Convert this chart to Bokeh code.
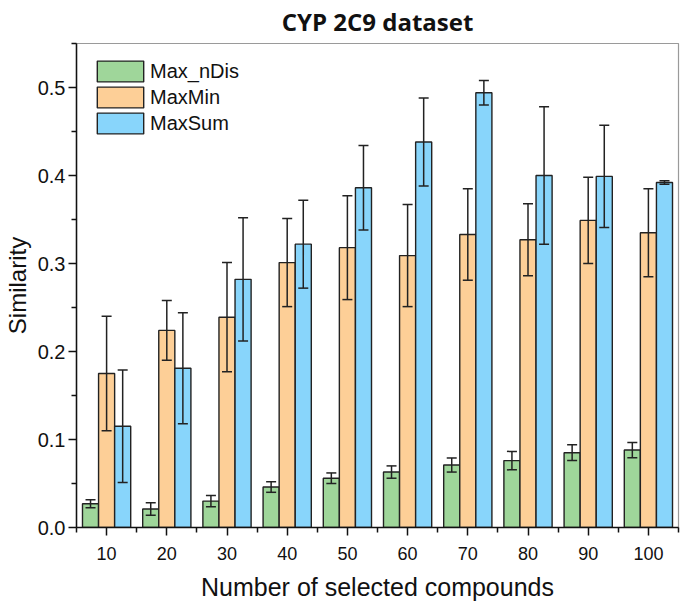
from bokeh.plotting import figure
from bokeh.models import (Range1d, FixedTicker, PrintfTickFormatter, Whisker,
                          ColumnDataSource, TeeHead)
from bokeh.embed import file_html
from bokeh.resources import INLINE

# ---- data ----
n_compounds = [10, 20, 30, 40, 50, 60, 70, 80, 90, 100]
max_ndis = [0.027, 0.021, 0.030, 0.046, 0.056, 0.063, 0.071, 0.076, 0.085, 0.088]
max_ndis_err = [0.0045, 0.007, 0.0065, 0.006, 0.006, 0.007, 0.008, 0.0105, 0.009, 0.0087]
maxmin = [0.175, 0.224, 0.239, 0.301, 0.318, 0.309, 0.333, 0.327, 0.349, 0.335]
maxmin_err = [0.065, 0.034, 0.062, 0.050, 0.059, 0.058, 0.052, 0.041, 0.049, 0.050]
maxsum = [0.115, 0.181, 0.282, 0.322, 0.386, 0.438, 0.494, 0.400, 0.399, 0.392]
maxsum_err = [0.064, 0.063, 0.070, 0.050, 0.048, 0.050, 0.014, 0.078, 0.058, 0.002]
series_names = ["Max_nDis", "MaxMin", "MaxSum"]
y_ticks = [0.0, 0.1, 0.2, 0.3, 0.4, 0.5]

colors = ["#9fd69a", "#fdcf97", "#88d5fb"]
bar_w = 2.67
offsets = [-bar_w, 0.0, bar_w]

p = figure(frame_width=602, frame_height=484, output_backend="svg",
           toolbar_location=None,
           x_range=Range1d(5, 105), y_range=Range1d(0, 0.55),
           min_border_left=71, min_border_right=5, min_border_top=36,
           min_border_bottom=70)

p.title.text = "CYP 2C9 dataset"
p.title.align = "center"
p.title.vertical_align = "top"
p.title.text_font = "Open Sans"
p.title.text_font_style = "bold"
p.title.text_font_size = "24px"
p.title.text_color = "#111111"
p.title.standoff = 8

all_vals = [max_ndis, maxmin, maxsum]
all_errs = [max_ndis_err, maxmin_err, maxsum_err]
for name, vals, errs, col, off in zip(series_names, all_vals, all_errs, colors, offsets):
    xs = [v + off for v in n_compounds]
    src = ColumnDataSource(dict(x=xs, top=vals,
                                upper=[v + e for v, e in zip(vals, errs)],
                                lower=[v - e for v, e in zip(vals, errs)]))
    p.vbar(x="x", top="top", width=bar_w, bottom=0, source=src,
           fill_color=col, line_color="#222222", line_width=1.4,
           legend_label=name)
    w = Whisker(base="x", upper="upper", lower="lower", source=src,
                line_color="#222222", line_width=1.5, level="overlay",
                upper_head=TeeHead(size=10, line_color="#222222", line_width=1.5),
                lower_head=TeeHead(size=10, line_color="#222222", line_width=1.5))
    p.add_layout(w)

p.xgrid.visible = False
p.ygrid.visible = False
p.outline_line_color = "#9a9a9a"
p.outline_line_width = 1.2

p.xaxis.ticker = FixedTicker(ticks=n_compounds,
                             minor_ticks=[5, 15, 25, 35, 45, 55, 65, 75, 85, 95, 105])
p.yaxis.ticker = FixedTicker(ticks=y_ticks,
                             minor_ticks=[0.05, 0.15, 0.25, 0.35, 0.45, 0.55])
p.yaxis.formatter = PrintfTickFormatter(format="%.1f")

for ax in (p.xaxis, p.yaxis):
    ax.axis_line_color = "#111111"
    ax.axis_line_width = 1.5
    ax.major_tick_line_color = "#111111"
    ax.major_tick_line_width = 1.5
    ax.minor_tick_line_color = "#111111"
    ax.minor_tick_line_width = 1.5
    ax.major_tick_in = 0
    ax.major_tick_out = 8
    ax.minor_tick_in = 0
    ax.minor_tick_out = 5
    ax.major_label_text_font = "Liberation Sans"
    ax.major_label_text_color = "#111111"
    ax.axis_label_text_font = "Liberation Sans"
    ax.axis_label_text_font_style = "normal"
    ax.axis_label_text_color = "#111111"

p.xaxis.axis_label_text_font_size = "25px"
p.yaxis.axis_label_text_font_size = "24px"
p.xaxis.major_label_text_font_size = "18px"
p.yaxis.major_label_text_font_size = "20px"
p.xaxis.axis_label = "Number of selected compounds"
p.yaxis.axis_label = "Similarity"
p.xaxis.major_label_standoff = 11
p.xaxis.axis_label_standoff = 10
p.yaxis.major_label_standoff = 3
p.yaxis.axis_label_standoff = 4

leg = p.legend[0]
leg.location = "top_left"
leg.margin = 15
leg.padding = 1
leg.border_line_color = None
leg.background_fill_alpha = 0
leg.glyph_width = 58
leg.glyph_height = 26
leg.label_height = 26
leg.spacing = 0
leg.label_standoff = 1
leg.label_text_font = "Liberation Sans"
leg.label_text_font_size = "20px"
leg.label_text_color = "#111111"

open("out.html", "w").write(file_html(p, INLINE))
